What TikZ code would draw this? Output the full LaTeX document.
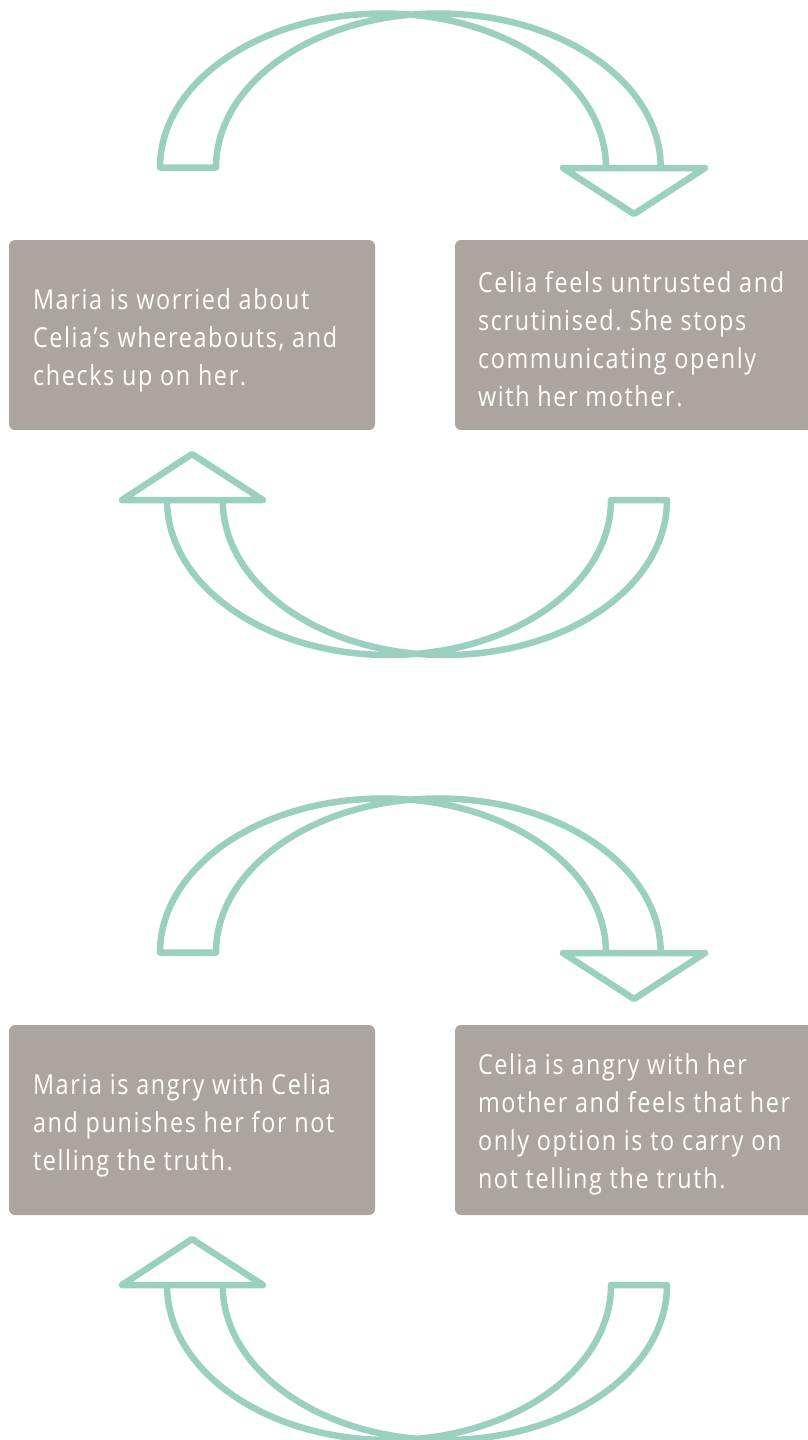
\documentclass[tikz,border=0pt]{standalone}
\usepackage{fontspec}
\setmainfont[FakeStretch=0.85, LetterSpace=6]{Open Sans}
\frenchspacing
\definecolor{arrowc}{HTML}{9BCFC0}
\definecolor{boxc}{HTML}{ADA49F}
\tikzset{
  loopline/.style={draw=arrowc, line width=6.5pt, line join=round, line cap=butt},
  card/.style={fill=boxc, rounded corners=6pt, draw=none, inner sep=0pt},
  cardtext/.style={text=white, anchor=west, align=left, inner sep=0pt,
                   font=\fontsize{27.5}{38}\selectfont},
}
\begin{document}
\begin{tikzpicture}[x=1pt,y=-1pt]
\useasboundingbox (0,0) rectangle (808,1440);
\clip (0,0) rectangle (808,1440);

% ---------- first cycle ----------
\begin{scope}
  % top curved arrow
  \draw[loopline] (606,167.5) arc[start angle=0, end angle=-180, x radius=223, y radius=154]
        -- (216,167.5) arc[start angle=180, end angle=360, x radius=222.35, y radius=154];
  \draw[loopline] (563,168) -- (705,168) -- (634,214) -- cycle;
  % boxes
  \node[card, minimum width=366pt, minimum height=190pt] (b1) at (192,335) {};
  \node[card, minimum width=360pt, minimum height=190pt] (b2) at (635,335) {};
  \node[cardtext] (t1) at ([xshift=24pt,yshift=-5pt]b1.west)
    {Maria is worried about\\Celia’s whereabouts, and\\checks up on her.};
  \node[cardtext] (t2) at ([xshift=23pt,yshift=-4pt]b2.west)
    {Celia feels untrusted and\\scrutinised. She stops\\communicating openly\\with her mother.};
  % bottom curved arrow
  \draw[loopline] (167,500) arc[start angle=180, end angle=0, x radius=222, y radius=155]
        -- (667,500) arc[start angle=0, end angle=180, x radius=222.15, y radius=155];
  \draw[loopline] (122,500) -- (263,500) -- (192,454) -- cycle;
\end{scope}

% ---------- second cycle ----------
\begin{scope}[yshift=-785pt]
  \draw[loopline] (606,167.5) arc[start angle=0, end angle=-180, x radius=223, y radius=154]
        -- (216,167.5) arc[start angle=180, end angle=360, x radius=222.35, y radius=154];
  \draw[loopline] (563,168) -- (705,168) -- (634,214) -- cycle;
  \node[card, minimum width=366pt, minimum height=190pt] (b3) at (192,335) {};
  \node[card, minimum width=360pt, minimum height=190pt] (b4) at (635,335) {};
  \node[cardtext] (t3) at ([xshift=24pt,yshift=-5pt]b3.west)
    {Maria is angry with Celia\\and punishes her for not\\telling the truth.};
  \node[cardtext] (t4) at ([xshift=23pt,yshift=-4pt]b4.west)
    {Celia is angry with her\\mother and feels that her\\only option is to carry on\\not telling the truth.};
  \draw[loopline] (167,500) arc[start angle=180, end angle=0, x radius=222, y radius=155]
        -- (667,500) arc[start angle=0, end angle=180, x radius=222.15, y radius=155];
  \draw[loopline] (122,500) -- (263,500) -- (192,454) -- cycle;
\end{scope}
\end{tikzpicture}
\end{document}
